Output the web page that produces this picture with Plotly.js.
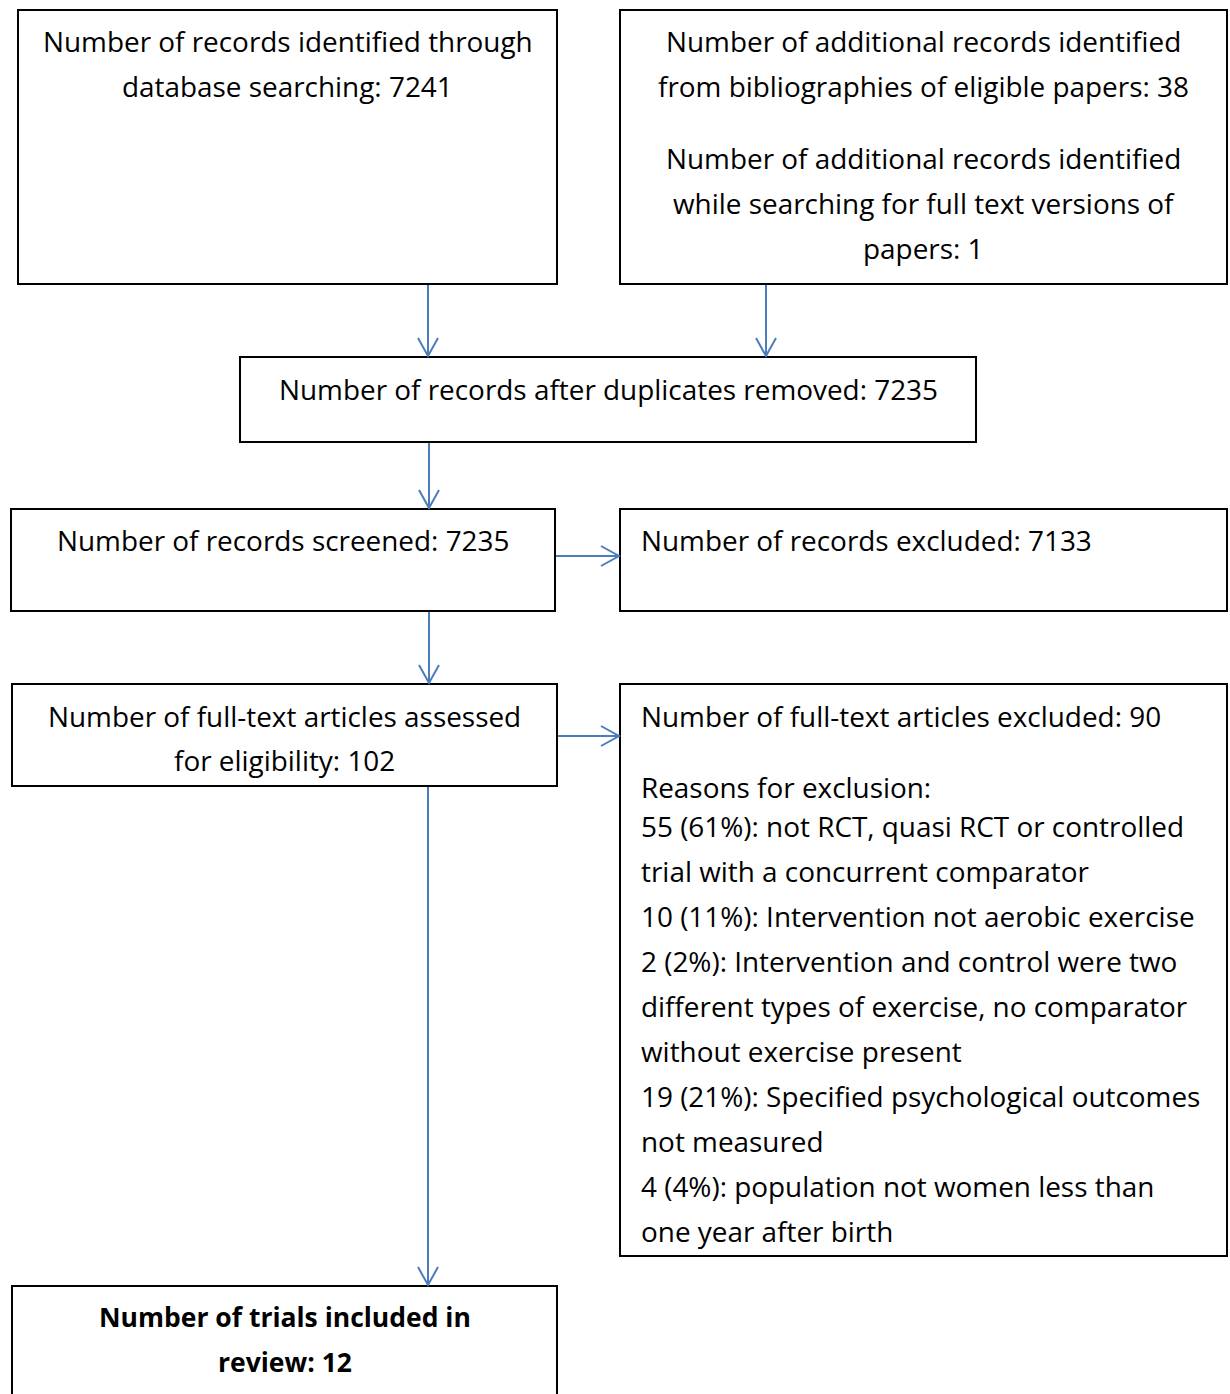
<!DOCTYPE html>
<html>
<head>
<meta charset="utf-8">
<script src="https://cdn.plot.ly/plotly-3.0.1.min.js"></script>
<style>html,body{margin:0;padding:0;background:#fff;}#chart{width:1230px;height:1394px;}</style>
</head>
<body>
<div id="chart"></div>
<script>
// ---- content (text of each box) ----
const identifiedText = ["Number of records identified through", "database searching: 7241"];
const additionalText = ["Number of additional records identified", "from bibliographies of eligible papers: 38", "Number of additional records identified", "while searching for full text versions of", "papers: 1"];
const duplicatesText = ["Number of records after duplicates removed: 7235"];
const screenedText = ["Number of records screened: 7235"];
const excludedText = ["Number of records excluded: 7133"];
const assessedText = ["Number of full-text articles assessed", "for eligibility: 102"];
const fullExcludedText = ["Number of full-text articles excluded: 90", "Reasons for exclusion:", "55 (61%): not RCT, quasi RCT or controlled", "trial with a concurrent comparator", "10 (11%): Intervention not aerobic exercise", "2 (2%): Intervention and control were two", "different types of exercise, no comparator", "without exercise present", "19 (21%): Specified psychological outcomes", "not measured", "4 (4%): population not women less than", "one year after birth"];
const includedText = ["Number of trials included in", "review: 12"];

// ---- layout geometry (pixel positions) ----
const boxes = [
  {lines: identifiedText, x0: 18, x1: 557, y0: 10, y1: 284, align: "center", ys: [41, 86]},
  {lines: additionalText, x0: 620, x1: 1227, y0: 10, y1: 284, align: "center", ys: [41, 86, 158, 203, 248]},
  {lines: duplicatesText, x0: 240, x1: 976, y0: 357, y1: 442, align: "center", ys: [389]},
  {lines: screenedText, x0: 11, x1: 555, y0: 509, y1: 611, align: "center", ys: [540]},
  {lines: excludedText, x0: 620, x1: 1227, y0: 509, y1: 611, align: "left", ys: [540]},
  {lines: assessedText, x0: 12, x1: 557, y0: 684, y1: 786, align: "center", ys: [716, 760]},
  {lines: fullExcludedText, x0: 620, x1: 1227, y0: 684, y1: 1256, align: "left", ys: [716, 787, 826, 871, 916, 961, 1006, 1051, 1096, 1141, 1186, 1231]},
  {lines: includedText, x0: 12, x1: 557, y0: 1286, y1: 1420, align: "center", ys: [1317, 1362], bold: true}
];
const arrows = [
  {x0: 428, y0: 285, x1: 428, y1: 356},
  {x0: 766, y0: 285, x1: 766, y1: 356},
  {x0: 429, y0: 443, x1: 429, y1: 508},
  {x0: 556, y0: 556, x1: 619, y1: 556},
  {x0: 429, y0: 612, x1: 429, y1: 683},
  {x0: 558, y0: 736, x1: 619, y1: 736},
  {x0: 428, y0: 787, x1: 428, y1: 1285}
];

const FONT = "'Open Sans', Lato, sans-serif";
const arrowColor = "#4a7ebb";
const shapes = [];
const annotations = [];

boxes.forEach(b => {
  shapes.push({type: "rect", xref: "x", yref: "y", x0: b.x0, x1: b.x1, y0: b.y0, y1: b.y1,
    line: {color: "#000", width: 2}, fillcolor: "rgba(0,0,0,0)"});
  b.lines.forEach((t, i) => {
    const left = b.align === "left";
    annotations.push({
      xref: "x", yref: "y", x: left ? b.x0 + 19 : (b.x0 + b.x1) / 2, y: b.ys[i],
      xanchor: left ? "left" : "center", yanchor: "middle", showarrow: false,
      text: b.bold ? "<b>" + t + "</b>" : t,
      font: {family: FONT, size: b.bold ? 26.5 : 27.9, color: "#000"}
    });
  });
});

arrows.forEach(a => {
  shapes.push({type: "line", xref: "x", yref: "y", x0: a.x0, y0: a.y0, x1: a.x1, y1: a.y1,
    line: {color: arrowColor, width: 2}});
  let p;
  if (a.x0 === a.x1) {
    p = `M ${a.x1 - 10} ${a.y1 - 18} L ${a.x1} ${a.y1} L ${a.x1 + 10} ${a.y1 - 18}`;
  } else {
    p = `M ${a.x1 - 18} ${a.y1 - 10} L ${a.x1} ${a.y1} L ${a.x1 - 18} ${a.y1 + 10}`;
  }
  shapes.push({type: "path", xref: "x", yref: "y", path: p, line: {color: arrowColor, width: 2}});
});

const layout = {
  width: 1230, height: 1394,
  margin: {l: 0, r: 0, t: 0, b: 0},
  paper_bgcolor: "#fff", plot_bgcolor: "#fff",
  xaxis: {range: [0, 1230], visible: false, fixedrange: true},
  yaxis: {range: [1394, 0], visible: false, fixedrange: true},
  showlegend: false,
  shapes: shapes,
  annotations: annotations
};
Plotly.newPlot("chart", [], layout, {displayModeBar: false, staticPlot: true});
</script>
</body>
</html>
